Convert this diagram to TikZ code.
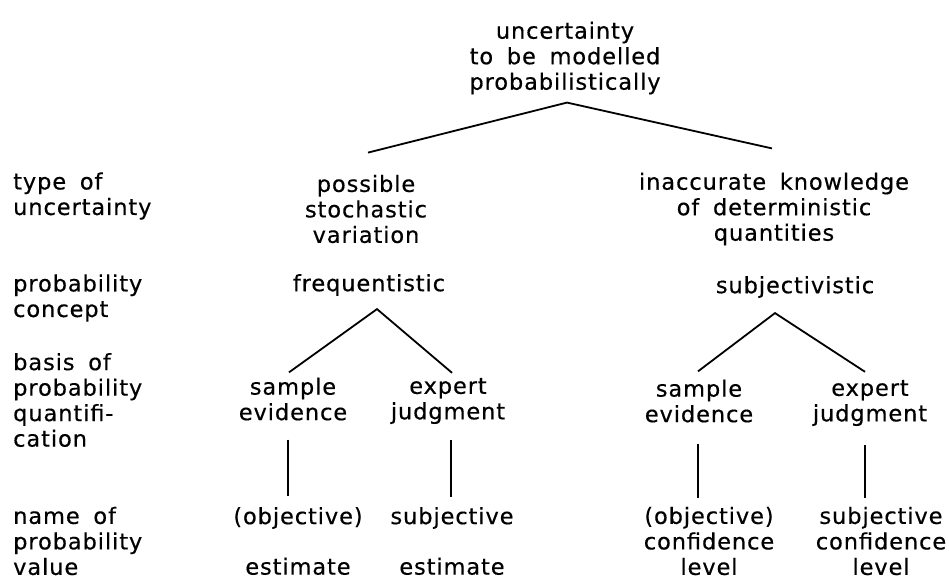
\documentclass[tikz,border=0pt]{standalone}
\usepackage{fontspec}
\usepackage{tikz}
\usetikzlibrary{calc}
\newfontfamily\typefont[LetterSpace=4,WordSpace=1.7,FakeBold=0.4]{DejaVu Sans}

\begin{document}
\begin{tikzpicture}[x=1pt, y=-1pt, font=\typefont\fontsize{22.5}{25.5}\selectfont,
  txt/.style={align=center, inner sep=0pt},
  rowlabel/.style={align=left, anchor=west, inner sep=0pt},
  branch/.style={line width=1.8pt}]
\fill[white] (0,0) rectangle (949,580);

% row labels on the left
\node[rowlabel] (typelab) at (13,196) {type of\\uncertainty};
\node[rowlabel] (conceptlab) at (13,298) {probability\\concept};
\node[rowlabel] (basislab) at (13,400) {basis of\\probability\\quantifi-\\cation};
\node[rowlabel] (namelab) at (13,541) {name of\\probability\\value};

% tree
\node[txt] (root) at (565,58) {uncertainty\\to be modelled\\probabilistically};
\node[txt] (stoch) at (366,209) {possible\\stochastic\\variation};
\node[txt] (know) at (774,209) {inaccurate knowledge\\of deterministic\\quantities};
\node[txt] (freq) at (369,285) {frequentistic};
\node[txt] (subj) at (795,287) {subjectivistic};
\node[txt] (sampleA) at (293,399) {sample\\evidence};
\node[txt] (expertA) at (448,401) {expert\\judgment};
\node[txt] (sampleB) at (699,401) {sample\\evidence};
\node[txt] (expertB) at (870,403) {expert\\judgment};
\node[txt] (valueA) at (298,541) {(objective)\\[25pt]estimate};
\node[txt] (valueB) at (452,541) {subjective\\[25pt]estimate};
\node[txt] (valueC) at (709,541) {(objective)\\confidence\\level};
\node[txt] (valueD) at (881,541) {subjective\\confidence\\level};

% connectors
\draw[branch] ($(stoch.north)+(2,-22)$) -- ($(root.south)+(2,8)$) -- ($(know.north)+(-2,-24)$);
\draw[branch] ($(sampleA.north)+(-4,-5)$) -- ($(freq.south)+(8,13)$) -- ($(expertA.north)+(4,-5)$);
\draw[branch] ($(sampleB.north)+(-1,-8)$) -- ($(subj.south)+(-20,15)$) -- ($(expertB.north)+(-5,-8)$);
\draw[branch] ($(sampleA.south)+(-5,19)$) -- ($(valueA.north)+(-10,-11)$);
\draw[branch] ($(expertA.south)+(3,16)$) -- ($(valueB.north)+(-1,-10)$);
\draw[branch] ($(sampleB.south)+(-1,21)$) -- ($(valueC.north)+(-11,-9)$);
\draw[branch] ($(expertB.south)+(-5,19)$) -- ($(valueD.north)+(-16,-9)$);
\end{tikzpicture}
\end{document}
